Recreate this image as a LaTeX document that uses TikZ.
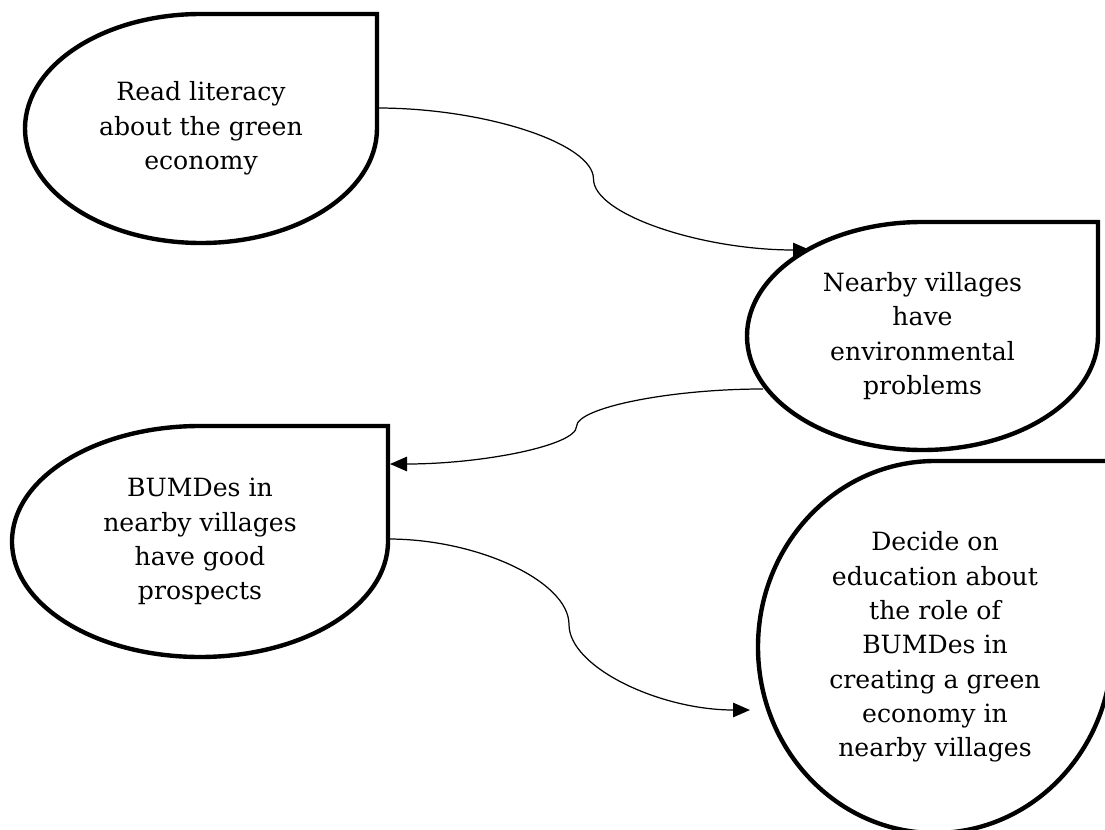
\documentclass[tikz,border=0pt]{standalone}
\usepackage{fontspec}
\setmainfont{DejaVu Serif}
\usetikzlibrary{arrows.meta, positioning, calc}

% teardrop outline round a named node (square corner top right)
\newcommand{\dropshape}[1]{%
  \draw[dropline] (#1.west) .. controls ($(#1.west)!0.5523!(#1.north west)$) and ($(#1.north)!0.5523!(#1.north west)$) .. (#1.north)
    -- (#1.north east) -- (#1.east)
    .. controls ($(#1.east)!0.5523!(#1.south east)$) and ($(#1.south)!0.5523!(#1.south east)$) .. (#1.south)
    .. controls ($(#1.south)!0.5523!(#1.south west)$) and ($(#1.west)!0.5523!(#1.south west)$) .. (#1.west) -- cycle;}

\begin{document}
\begin{tikzpicture}[
        drop/.style={rectangle, inner sep=0pt, outer sep=0pt, align=center, font=\fontsize{14.3}{19.5}\selectfont},
        dropline/.style={draw=black, line width=2.5pt},
        link/.style={-{Triangle[length=0.34cm, width=0.29cm]}, line width=0.7pt, draw=black},
        sbend/.style={to path={let \p1=(\tikztostart), \p2=(\tikztotarget) in
            .. controls ({0.75*\x1+0.25*\x2},\y1) and ({0.5*\x1+0.5*\x2},{0.75*\y1+0.25*\y2}) .. ({0.5*\x1+0.5*\x2},{0.5*\y1+0.5*\y2})
            .. controls ({0.5*\x1+0.5*\x2},{0.25*\y1+0.75*\y2}) and ({0.25*\x1+0.75*\x2},\y2) .. (\tikztotarget) \tikztonodes}}
    ]
        \useasboundingbox (0,0) rectangle (22.1,-16.6);
        \node[drop, minimum width=7.04cm, minimum height=4.58cm] (read) at (4.02,-2.57) {Read literacy\\about the green\\economy};
        \node[drop, minimum width=7.02cm, minimum height=4.56cm] (near) at (18.45,-6.72) {Nearby villages\\have\\environmental\\problems};
        \node[drop, minimum width=7.52cm, minimum height=4.62cm] (bum) at (4.0,-10.83) {BUMDes in\\nearby villages\\have good\\prospects};
        \node[drop, minimum width=7.08cm, minimum height=7.44cm] (edu) at (18.7,-12.94) {Decide on\\education about\\the role of\\BUMDes in\\creating a green\\economy in\\nearby villages};
        \dropshape{read}
        \dropshape{near}
        \dropshape{bum}
        \dropshape{edu}
        \draw[link] ([yshift=0.41cm]read.east) to[sbend] ([shift={(-2.25,1.72)}]near.center);
        \draw[link] ([shift={(-3.19,-1.06)}]near.center) to[sbend] ([xshift=0.04cm, yshift=1.55cm]bum.east);
        \draw[link] ([yshift=0.05cm]bum.east) to[sbend] ([shift={(-3.7,-1.26)}]edu.center);
\end{tikzpicture}
\end{document}
